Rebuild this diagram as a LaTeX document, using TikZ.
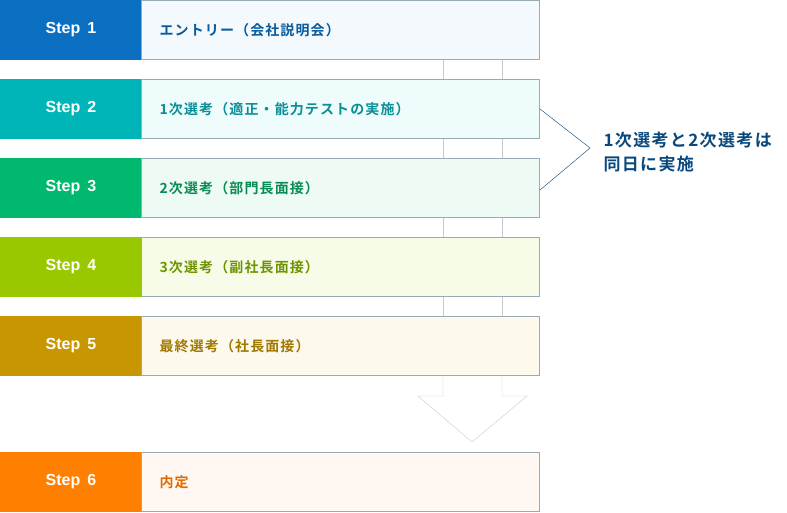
\documentclass[tikz,border=0pt]{standalone}
\usepackage{fontspec}
\newfontfamily\jp{Noto Sans CJK JP}[BoldFont={* Bold},LetterSpace=8]
\setmainfont{Liberation Sans}
\begin{document}
\begin{tikzpicture}[x=1pt,y=-1pt,
 lab/.style={anchor=center,text=white,font=\bfseries\fontsize{16}{18}\selectfont},
 txt/.style={anchor=west,font=\jp\bfseries\fontsize{14}{16}\selectfont}]
\useasboundingbox (0,0) rectangle (787,512);
\definecolor{c1}{HTML}{0A6FC0}\definecolor{l1}{HTML}{F3F9FD}\definecolor{t1}{HTML}{0A5A9C}
\definecolor{c2}{HTML}{00B5B8}\definecolor{l2}{HTML}{EEFCFC}\definecolor{t2}{HTML}{0A8E97}
\definecolor{c3}{HTML}{00B86E}\definecolor{l3}{HTML}{EDFBF4}\definecolor{t3}{HTML}{0A8A55}
\definecolor{c4}{HTML}{99C800}\definecolor{l4}{HTML}{F7FCE8}\definecolor{t4}{HTML}{6E9400}
\definecolor{c5}{HTML}{C89600}\definecolor{l5}{HTML}{FDF9EC}\definecolor{t5}{HTML}{A07800}
\definecolor{c6}{HTML}{FF7F00}\definecolor{l6}{HTML}{FFF8F2}\definecolor{t6}{HTML}{E06A00}
\definecolor{ln}{HTML}{9AAAB4}
\foreach \i/\y/\t in {1/0/エントリー（会社説明会）,2/79/1次選考（適正・能力テストの実施）,3/158/2次選考（部門長面接）,4/237/3次選考（副社長面接）,5/316/最終選考（社長面接）,6/452/内定}{
 \fill[c\i] (0,\y) rectangle (141,\y+60);
 \draw[ln,fill=l\i] (141,\y+0.5) rectangle (539.5,\y+59.5);
 \node[lab] (s\i) at (71,\y+30) {Step \,\i};
 \node[txt,text=t\i] (b\i) at (156,\y+30) {\jp\t};
}
\foreach \y in {60,139,218,297}{
 \draw[ln!60] (443,\y) -- (443,\y+19); \draw[ln!60] (502,\y) -- (502,\y+19);}
\draw[ln!60,fill=white] (443,376) -- (443,396) -- (418,396) -- (472,442) -- (527,396) -- (502,396) -- (502,376);
\draw[t1!70!black] (540,109) -- (590,148) -- (540,190);
\node[anchor=west,align=left,text=t1!80!black,font=\jp\bfseries\fontsize{17}{24}\selectfont] (note) at (600,152) {1次選考と2次選考は\\同日に実施};
\end{tikzpicture}
\end{document}
